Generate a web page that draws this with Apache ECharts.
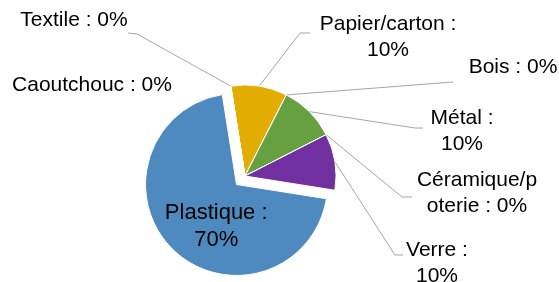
<!DOCTYPE html>
<html>
<head>
<meta charset="utf-8">
<script src="https://cdn.jsdelivr.net/npm/echarts@6/dist/echarts.min.js"></script>
<style>
  html, body { margin: 0; padding: 0; background: #fff; }
  #main { width: 559px; height: 282px; }
</style>
</head>
<body>
<div id="main"></div>
<script>
// données du graphique (sens horaire)
var categories = ['Papier/carton', 'Bois', 'Métal', 'Céramique/poterie', 'Verre', 'Plastique', 'Caoutchouc', 'Textile'];
var values = [10, 0, 10, 0, 10, 70, 0, 0];
// textes des étiquettes tels qu'affichés (retours à la ligne d'Excel)
var labelTexts = ['Papier/carton :\n10%', 'Bois : 0%', 'Métal :\n10%', 'Céramique/p\noterie : 0%', 'Verre :\n10%', 'Plastique :\n70%', 'Caoutchouc : 0%', 'Textile : 0%'];
var colors = ['#e3ac00', '#a5a5a5', '#66a040', '#a5a5a5', '#7030a0', '#4e8abf', '#a5a5a5', '#a5a5a5'];

// placement des étiquettes extérieures : centre du texte, coude et bout du trait
var labelPlace = {
    'Papier/carton':     { x: 388, y: 37,  bend: [300, 33], end: [310, 33] },
    'Bois':              { x: 513, y: 67,  bend: [453, 82], end: [453, 82] },
    'Métal':             { x: 462, y: 131, bend: [415, 128], end: [423, 128] },
    'Céramique/poterie': { x: 477, y: 193, bend: [402, 197], end: [412, 197] },
    'Verre':             { x: 437, y: 263, bend: [395, 255], end: [403, 255] },
    'Caoutchouc':        { x: 92,  y: 85 },
    'Textile':           { x: 74,  y: 20,  bend: [137, 34], end: [128, 33] }
};

var pieData = categories.map(function (name, i) {
    var item = {
        name: name,
        value: values[i],
        itemStyle: { color: colors[i] }
    };
    if (name === 'Plastique') {
        item.selected = true;
        // étiquette intérieure ; ligne vide + padding pour la décaler comme dans Excel
        item.label = {
            position: 'inside', fontSize: 22, lineHeight: 27, padding: [0, 0, 0, 28],
            formatter: function (p) {
                return '{gap|}\n' + labelTexts[p.dataIndex];
            },
            rich: { gap: { lineHeight: 16, fontSize: 10 } }
        };
        item.labelLine = { show: false };
    }
    if (name === 'Caoutchouc') {
        item.labelLine = { show: false };
    }
    return item;
});

var chart = echarts.init(document.getElementById('main'), null, { renderer: 'canvas' });
chart.setOption({
    animation: false,
    backgroundColor: '#fff',
    series: [{
        type: 'pie',
        center: [245, 176],
        radius: 91,
        startAngle: 99,
        clockwise: true,
        avoidLabelOverlap: false,
        selectedMode: 'single',
        selectedOffset: 12,
        select: { itemStyle: { borderColor: '#fff', borderWidth: 1 } },
        emphasis: { disabled: true },
        itemStyle: { borderColor: '#fff', borderWidth: 1 },
        label: {
            show: true,
            position: 'outside',
            fontFamily: 'Liberation Sans',
            fontSize: 21,
            color: '#000',
            lineHeight: 26,
            align: 'center',
            formatter: function (p) { return labelTexts[p.dataIndex]; }
        },
        labelLine: {
            show: true,
            length: 10,
            length2: 10,
            lineStyle: { color: '#a6a6a6', width: 1 }
        },
        labelLayout: function (params) {
            var pl = labelPlace[categories[params.dataIndex]];
            if (!pl) {
                return {};
            }
            var out = { x: pl.x, y: pl.y, align: 'center', verticalAlign: 'middle' };
            if (pl.bend && params.labelLinePoints) {
                out.labelLinePoints = [params.labelLinePoints[0], pl.bend, pl.end];
            }
            return out;
        },
        data: pieData
    }]
});
</script>
</body>
</html>
